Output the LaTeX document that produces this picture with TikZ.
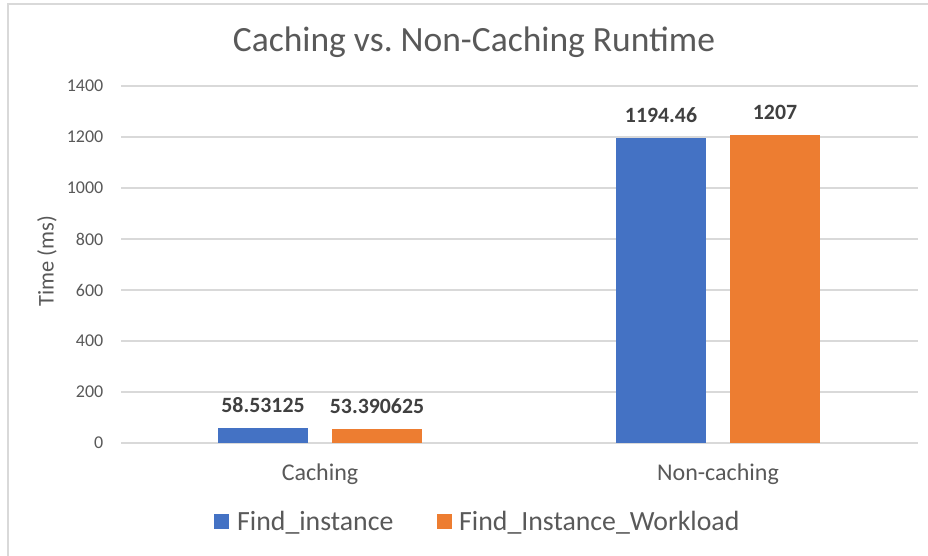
\documentclass[tikz,border=0pt]{standalone}
\usepackage{fontspec}
\setmainfont{Carlito}
\definecolor{txtgray}{HTML}{595959}
\definecolor{lblgray}{HTML}{404040}
\definecolor{gridgray}{HTML}{D9D9D9}
\definecolor{serA}{HTML}{4472C4}
\definecolor{serB}{HTML}{ED7D31}
\begin{document}
\begin{tikzpicture}[x=1pt,y=-1pt,
  gridline/.style={draw=gridgray,line width=1.1pt},
  framel/.style={draw=gridgray,line width=1.6pt},
  ticklbl/.style={text=txtgray,inner sep=0pt,font=\fontsize{18}{20}\selectfont},
  catlbl/.style={text=txtgray,inner sep=0pt,anchor=base,font=\fontsize{24}{28}\selectfont},
  datalbl/.style={text=lblgray,inner sep=0pt,anchor=base,font=\fontsize{21.8}{24}\selectfont\bfseries},
  legtxt/.style={text=txtgray,inner sep=0pt,anchor=base west,font=\fontsize{27.8}{30}\selectfont},
  barA/.style={fill=serA},
  barB/.style={fill=serB}]
\useasboundingbox (0,0) rectangle (928,556);
\fill[white] (0,0) rectangle (928,556);
% chart frame (left and top edges)
\draw[framel] (8,556) -- (8,4) -- (928,4);
% title
\node[text=txtgray,inner sep=0pt,anchor=base,font=\fontsize{35.5}{40}\selectfont] (title) at (474,51.7) {Caching vs.\ Non-Caching Runtime};
% gridlines and tick labels (0 at y=443, 0.255 px per ms)
\foreach \v in {0,200,...,1400} {
  \pgfmathsetmacro\yy{443-\v*0.255}
  \draw[gridline] (121,\yy) -- (918,\yy);
  \node[ticklbl,anchor=east] (tick\v) at (103.5,\yy) {\v};
}
% axis title
\node[text=txtgray,inner sep=0pt,rotate=90,font=\fontsize{22.5}{26}\selectfont] (ytitle) at (47,261.5) {Time (ms)};
% bars with data labels
\foreach \c/\va/\vb/\nm in {320/58.53125/53.390625/cach, 718/1194.46/1207/noncach} {
  \pgfmathsetmacro\ya{443-\va*0.255}
  \pgfmathsetmacro\yb{443-\vb*0.255}
  \fill[barA] (\c-102,443) rectangle (\c-12,\ya);
  \fill[barB] (\c+12,443) rectangle (\c+102,\yb);
  \node[datalbl] (\nm A) at (\c-57,\ya-15.5) {\va};
  \node[datalbl] (\nm B) at (\c+57,\yb-15.5) {\vb};
}
% category labels
\node[catlbl] (catC) at (320,480.5) {Caching};
\node[catlbl] (catN) at (718,480.5) {Non-caching};
% legend
\fill[barA] (214,514) rectangle (229,529);
\node[legtxt] (legA) at (237,530) {Find\_instance};
\fill[barB] (437,514) rectangle (452,529);
\node[legtxt] (legB) at (459,530) {Find\_Instance\_Workload};
\end{tikzpicture}
\end{document}
